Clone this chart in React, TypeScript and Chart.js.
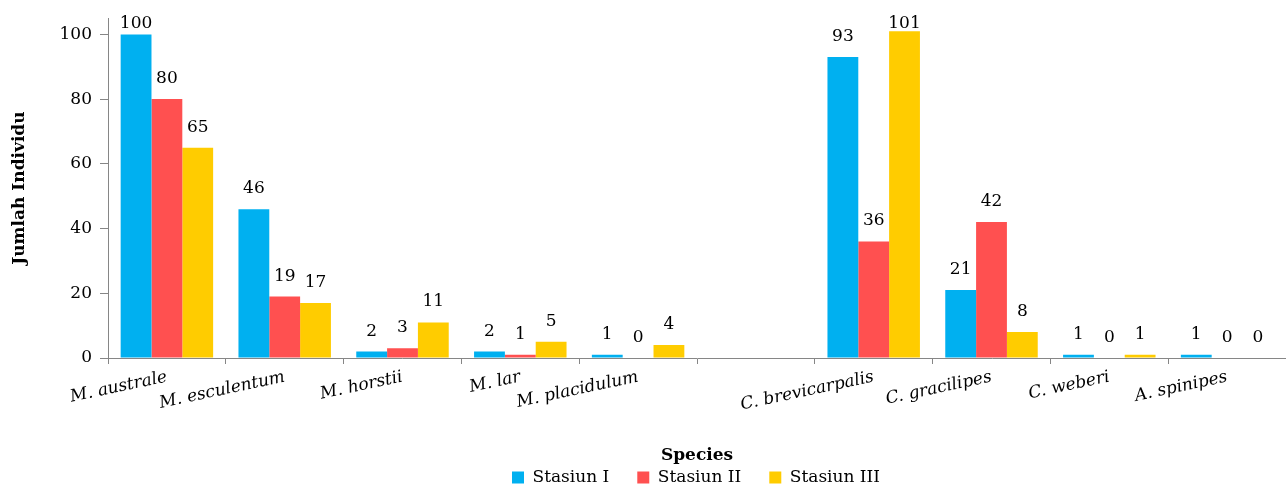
import { useEffect, useRef } from "react";
import { Chart, registerables } from "chart.js";

Chart.register(...registerables);

const categories = [
  "M. australe",
  "M. esculentum",
  "M. horstii",
  "M. lar",
  "M. placidulum",
  "",
  "C. brevicarpalis",
  "C. gracilipes",
  "C. weberi",
  "A. spinipes",
];
const stasiunI = [100, 46, 2, 2, 1, null, 93, 21, 1, 1];
const stasiunII = [80, 19, 3, 1, 0, null, 36, 42, 0, 0];
const stasiunIII = [65, 17, 11, 5, 4, null, 101, 8, 1, 0];
const seriesNames = ["Stasiun I", "Stasiun II", "Stasiun III"];
const seriesColors = ["#00B0F0", "#FF5050", "#FFCC00"];
const yTicks = [0, 20, 40, 60, 80, 100];

const FONT = "'DejaVu Serif', serif";

const valueLabels = {
  id: "valueLabels",
  afterDatasetsDraw(chart: any) {
    const ctx = chart.ctx;
    ctx.save();
    ctx.font = `17px ${FONT}`;
    ctx.fillStyle = "#000";
    ctx.textAlign = "center";
    ctx.textBaseline = "alphabetic";
    chart.data.datasets.forEach((ds: any, i: number) => {
      const meta = chart.getDatasetMeta(i);
      meta.data.forEach((el: any, j: number) => {
        const v = ds.data[j];
        if (v === null || v === undefined) return;
        const y = Math.max(el.y - 16, 28);
        ctx.fillText(String(v), el.x, y);
      });
    });
    ctx.restore();
  },
};

const legendShift = {
  id: "legendShift",
  afterLayout(chart: any) {
    const lg = chart.legend;
    if (lg) {
      lg.left += 53;
      lg.right += 53;
    }
  },
};

export default function App() {
  const ref = useRef<HTMLCanvasElement | null>(null);
  useEffect(() => {
    if (!ref.current) return;
    const datasets = [stasiunI, stasiunII, stasiunIII].map((d, i) => ({
      label: seriesNames[i],
      data: d,
      backgroundColor: seriesColors[i],
      borderWidth: 0,
      categoryPercentage: 0.785,
      barPercentage: 1,
    }));
    const chart = new Chart(ref.current, {
      type: "bar",
      data: { labels: categories, datasets },
      options: {
        responsive: false,
        animation: false,
        layout: { padding: { top: 17, left: 0, right: 0, bottom: 0 } },
        plugins: {
          tooltip: { enabled: false },
          legend: {
            position: "bottom",
            maxHeight: 48,
            labels: {
              boxWidth: 12,
              boxHeight: 12,
              padding: 28,
              color: "#000",
              font: { family: FONT, size: 17 },
            },
          },
        },
        scales: {
          x: {
            ticks: {
              minRotation: 12,
              maxRotation: 12,
              autoSkip: false,
              padding: 3,
              color: "#000",
              font: { family: FONT, size: 17, style: "italic" },
            },
            grid: {
              drawOnChartArea: false,
              tickLength: 6,
              color: "#868686",
              offset: true,
            },
            border: { color: "#868686" },
            title: {
              display: true,
              text: "Species",
              color: "#000",
              font: { family: FONT, size: 17, weight: "bold" },
              padding: { top: 0, bottom: -25 },
            },
            afterFit: (s: any) => {
              s.height = 83;
            },
          },
          y: {
            min: 0,
            max: 105,
            ticks: {
              stepSize: 20,
              padding: 8,
              color: "#000",
              font: { family: FONT, size: 17 },
            },
            afterBuildTicks: (s: any) => {
              s.ticks = yTicks.map((v) => ({ value: v }));
            },
            afterFit: (s: any) => {
              s.width = 108;
            },
            grid: { drawOnChartArea: false, tickLength: 8, color: "#868686" },
            border: { color: "#868686" },
            title: {
              display: true,
              text: "Jumlah Individu",
              color: "#000",
              font: { family: FONT, size: 17, weight: "bold" },
              padding: { top: 9, bottom: 0 },
            },
          },
        },
      } as any,
      plugins: [valueLabels, legendShift],
    });
    return () => chart.destroy();
  }, []);
  return (
    <div style={{ position: "absolute", left: 0, top: 0, width: 1286, height: 489, background: "#fff" }}>
      <canvas ref={ref} width={1286} height={489} style={{ width: 1286, height: 489 }} />
    </div>
  );
}
